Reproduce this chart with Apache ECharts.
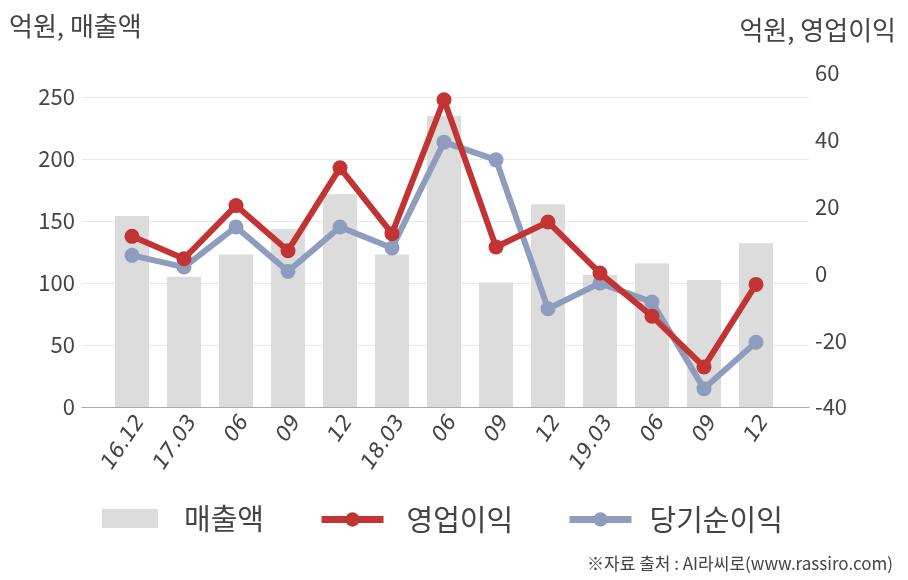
<!DOCTYPE html>
<html><head><meta charset="utf-8">
<script src="https://cdn.jsdelivr.net/npm/echarts@6/dist/echarts.min.js"></script>
<style>html,body{margin:0;padding:0;background:#fff}#c{width:908px;height:580px}</style>
</head><body><div id="c"></div>
<script>
const categories = ['16.12','17.03','06','09','12','18.03','06','09','12','19.03','06','09','12'];
const revenue = [154, 105, 123, 143.5, 171.5, 123, 234.7, 100.5, 163.5, 106.5, 116, 102.4, 132];
const operatingProfit = [11.1, 4.4, 20.3, 6.8, 31.6, 11.9, 52.0, 7.9, 15.4, 0.1, -12.8, -28.0, -3.3];
const netIncome = [5.4, 1.9, 13.9, 0.6, 13.9, 7.6, 39.3, 34.0, -10.6, -2.9, -8.6, -34.5, -20.6];
const leftTicks = {min: 0, max: 269.35, interval: 50};
const rightTicks = {min: -40, max: 60, interval: 20};

const KR = '"Noto Sans CJK KR", "Noto Sans", sans-serif';
const TXT = '#444';
const RED = '#c23434';
const BLUE = '#8e9dbd';
const GREY = '#dcdcdc';

const chart = echarts.init(document.getElementById('c'), null, {renderer: 'canvas'});
chart.setOption({
  animation: false,
  backgroundColor: '#fff',
  grid: [
    {left: 82, right: 99, top: 73, bottom: 173},
    {left: 106, right: 126, top: 73, bottom: 173}
  ],
  graphic: [
    {type: 'text', left: 9, top: 13, style: {text: '억원, 매출액', font: '26px ' + KR, fill: TXT}},
    {type: 'text', right: 12, top: 17, style: {text: '억원, 영업이익', font: '26px ' + KR, fill: TXT}},
    {type: 'text', right: 15, top: 555, style: {text: '※자료 출처 : AI라씨로(www.rassiro.com)', font: '17px ' + KR, fill: TXT}}
  ],
  xAxis: [
    {type: 'value', gridIndex: 0, min: 0, max: 1, axisLabel: {show: false}, axisTick: {show: false},
     splitLine: {show: false}, axisLine: {show: true, onZero: false, lineStyle: {color: '#aaa', width: 1}}},
    {type: 'category', gridIndex: 1, data: categories, boundaryGap: true,
     axisLine: {show: false}, axisTick: {show: false},
     axisLabel: {rotate: 56, fontSize: 21, fontStyle: 'italic', fontFamily: '"DejaVu Sans", sans-serif', color: TXT,
                 margin: 5, interval: 0, verticalAlign: 'top'}}
  ],
  yAxis: [
    {type: 'value', gridIndex: 0, position: 'left', min: leftTicks.min, max: leftTicks.max, interval: leftTicks.interval,
     axisLine: {show: false}, axisTick: {show: false},
     axisLabel: {fontSize: 22, color: TXT, fontFamily: KR, margin: 7, showMaxLabel: false},
     splitLine: {show: true, showMaxLine: false, lineStyle: {color: '#e8e8e8', width: 1}}},
    {type: 'value', gridIndex: 0, position: 'right', min: rightTicks.min, max: rightTicks.max, interval: rightTicks.interval,
     axisLine: {show: false}, axisTick: {show: false},
     axisLabel: {fontSize: 22, color: TXT, fontFamily: KR, margin: 6},
     splitLine: {show: false}},
    {type: 'value', gridIndex: 1, min: leftTicks.min, max: leftTicks.max, show: false, splitLine: {show: false}},
    {type: 'value', gridIndex: 1, min: rightTicks.min, max: rightTicks.max, show: false, splitLine: {show: false}}
  ],
  legend: [
    {left: 102, top: 504, padding: 0, itemWidth: 56, itemHeight: 19, data: [{name: '매출액', icon: 'rect'}],
     textStyle: {fontSize: 29, color: TXT, fontFamily: KR, padding: [0, 0, 0, 21]}},
    {left: 318, top: 505, padding: 0, itemWidth: 62, itemHeight: 18, data: ['영업이익'],
     lineStyle: {width: 7}, itemStyle: {borderWidth: 0},
     textStyle: {fontSize: 29, color: TXT, fontFamily: KR, padding: [0, 0, 0, 18]}},
    {left: 566, top: 505, padding: 0, itemWidth: 62, itemHeight: 18, data: ['당기순이익'],
     lineStyle: {width: 7}, itemStyle: {borderWidth: 0},
     textStyle: {fontSize: 29, color: TXT, fontFamily: KR, padding: [0, 0, 0, 13]}}
  ],
  series: [
    {name: '매출액', type: 'bar', xAxisIndex: 1, yAxisIndex: 2, data: revenue, barWidth: 34,
     itemStyle: {color: GREY}, z: 1},
    {name: '당기순이익', type: 'line', xAxisIndex: 1, yAxisIndex: 3, data: netIncome,
     symbol: 'circle', symbolSize: 15, lineStyle: {color: BLUE, width: 6}, itemStyle: {color: BLUE}, z: 3},
    {name: '영업이익', type: 'line', xAxisIndex: 1, yAxisIndex: 3, data: operatingProfit,
     symbol: 'circle', symbolSize: 15, lineStyle: {color: RED, width: 6}, itemStyle: {color: RED}, z: 4}
  ]
});
</script></body></html>
